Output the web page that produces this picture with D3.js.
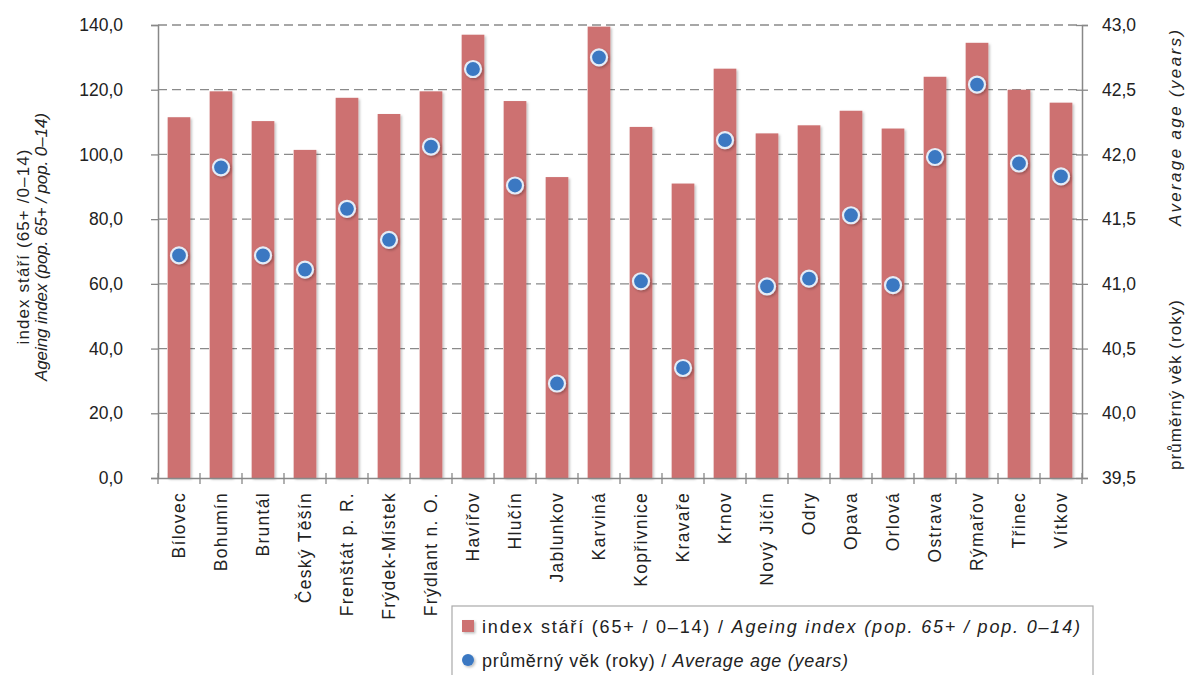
<!DOCTYPE html>
<html><head><meta charset="utf-8">
<script src="https://cdn.jsdelivr.net/npm/d3@7/dist/d3.min.js"></script>
<style>
body{margin:0;background:#fff;}
svg{font-family:"Liberation Sans",Arial,sans-serif;}
</style></head>
<body><svg id="c" width="1187" height="675"></svg>
<script>
const categories = ["Bílovec","Bohumín","Bruntál","Český Těšín","Frenštát p. R.","Frýdek-Místek","Frýdlant n. O.","Havířov","Hlučín","Jablunkov","Karviná","Kopřivnice","Kravaře","Krnov","Nový Jičín","Odry","Opava","Orlová","Ostrava","Rýmařov","Třinec","Vítkov"];
const ageingIndex = [111.5,119.5,110.3,101.4,117.5,112.5,119.5,137.0,116.5,93.0,139.5,108.5,91.0,126.5,106.5,109.0,113.5,108.0,124.0,134.5,120.0,116.0];
const averageAge = [41.22,41.90,41.22,41.11,41.58,41.34,42.06,42.66,41.76,40.23,42.75,41.02,40.35,42.11,40.98,41.04,41.53,40.99,41.98,42.54,41.93,41.83];
const leftTicks = [0,20,40,60,80,100,120,140];
const rightTicks = [39.5,40,40.5,41,41.5,42,42.5,43];

const svg = d3.select("#c");
const L=158, R=1082, T=25, B=478;
const x = d3.scaleBand().domain(categories).range([L,R]).paddingInner(0.46).paddingOuter(0.23);
const xb = d3.scaleBand().domain(categories).range([L,R]);
const yL = d3.scaleLinear().domain([0,140]).range([B,T]);
const yR = d3.scaleLinear().domain([39.5,43]).range([B,T]);
const fmt = v => d3.format(".1f")(v).replace(".",",");

const defs = svg.append("defs");
const f = defs.append("filter").attr("id","sh").attr("x","-50%").attr("y","-50%").attr("width","200%").attr("height","200%");
f.append("feDropShadow").attr("dx",1.5).attr("dy",1.5).attr("stdDeviation",1.2).attr("flood-color","#000").attr("flood-opacity",0.25);

// gridlines
svg.append("g").selectAll("line").data(leftTicks.filter(d=>d>0)).join("line")
  .attr("x1",L).attr("x2",R).attr("y1",d=>yL(d)).attr("y2",d=>yL(d))
  .attr("stroke","#8a8a8a").attr("stroke-width",1.3).attr("stroke-dasharray","9,5");

// bars
svg.append("g").selectAll("rect").data(categories).join("rect")
  .attr("x",d=>x(d)).attr("width",x.bandwidth())
  .attr("y",(d,i)=>yL(ageingIndex[i])).attr("height",(d,i)=>B-yL(ageingIndex[i]))
  .attr("fill","#cd7171").attr("filter","url(#sh)");

// left axis
const gl = svg.append("g").attr("transform",`translate(${L},0)`)
  .call(d3.axisLeft(yL).tickValues(leftTicks).tickFormat(fmt).tickSize(7).tickPadding(28));
// right axis
const gr = svg.append("g").attr("transform",`translate(${R},0)`)
  .call(d3.axisRight(yR).tickValues(rightTicks).tickFormat(fmt).tickSize(6).tickPadding(14));
gr.selectAll(".tick line").attr("x1",-6);
// bottom axis
const gb = svg.append("g").attr("transform",`translate(0,${B})`)
  .call(d3.axisBottom(xb).tickSize(0).tickPadding(0));
[gl,gr,gb].forEach(g=>{
  g.select(".domain").attr("stroke","#888").attr("stroke-width",1.5);
  g.selectAll(".tick line").attr("stroke","#888").attr("stroke-width",1.3);
  g.selectAll("text").attr("fill","#222").style("font-size","17.5px").style("font-family","'Liberation Sans',Arial,sans-serif");
});
gb.selectAll(".tick text").attr("transform","rotate(-90)").attr("text-anchor","end")
  .attr("x",-14).attr("y",0).attr("dy","0.35em").style("font-size","17.5px").style("letter-spacing","1.3px");
// category boundary ticks
svg.append("g").selectAll("line").data(categories.concat(["_end"])).join("line")
  .attr("x1",(d,i)=>L+i*xb.bandwidth()).attr("x2",(d,i)=>L+i*xb.bandwidth())
  .attr("y1",B-5).attr("y2",B+6).attr("stroke","#888").attr("stroke-width",1.3);

// dots
svg.append("g").selectAll("circle").data(categories).join("circle")
  .attr("cx",d=>xb(d)+xb.bandwidth()/2).attr("cy",(d,i)=>yR(averageAge[i])).attr("r",8)
  .attr("fill","#3a78c2").attr("stroke","#e4ecf7").attr("stroke-width",2.2).attr("filter","url(#sh)");

// left title
svg.append("text").attr("transform","translate(29,247) rotate(-90)").attr("text-anchor","middle")
  .style("font-size","17px").attr("fill","#222")
  .attr("textLength",195).attr("lengthAdjust","spacing").text("index stáří (65+ /0–14)");
svg.append("text").attr("transform","translate(47,247) rotate(-90)").attr("text-anchor","middle")
  .style("font-size","17px").style("font-style","italic").attr("fill","#222")
  .attr("textLength",268).attr("lengthAdjust","spacing").text("Ageing index (pop. 65+ / pop. 0–14)");

// right title
svg.append("text").attr("transform","translate(1181,385) rotate(-90)").attr("text-anchor","middle")
  .style("font-size","17px").attr("fill","#222")
  .attr("textLength",170).attr("lengthAdjust","spacing").text("průměrný věk (roky)");
svg.append("text").attr("transform","translate(1181,128) rotate(-90)").attr("text-anchor","middle")
  .style("font-size","17px").style("font-style","italic").attr("fill","#222")
  .attr("textLength",196).attr("lengthAdjust","spacing").text("Average age (years)");

// legend
const lg = svg.append("g");
lg.append("rect").attr("x",452).attr("y",606).attr("width",641).attr("height",80)
  .attr("fill","#fff").attr("stroke","#aaa").attr("stroke-width",1.2);
lg.append("rect").attr("x",462).attr("y",620).attr("width",12).attr("height",12).attr("fill","#cd7171").attr("filter","url(#sh)");
lg.append("circle").attr("cx",468).attr("cy",660).attr("r",6).attr("fill","#3a78c2").attr("filter","url(#sh)");
const t1 = lg.append("text").attr("x",482).attr("y",633).style("font-size","18px").attr("fill","#222")
  .attr("textLength",598).attr("lengthAdjust","spacing");
t1.append("tspan").text("index stáří (65+ / 0–14) / ");
t1.append("tspan").style("font-style","italic").text("Ageing index (pop. 65+ / pop. 0–14)");
const t2 = lg.append("text").attr("x",482).attr("y",667).style("font-size","18px").attr("fill","#222")
  .attr("textLength",366).attr("lengthAdjust","spacing");
t2.append("tspan").text("průměrný věk (roky) / ");
t2.append("tspan").style("font-style","italic").text("Average age (years)");
</script></body></html>
